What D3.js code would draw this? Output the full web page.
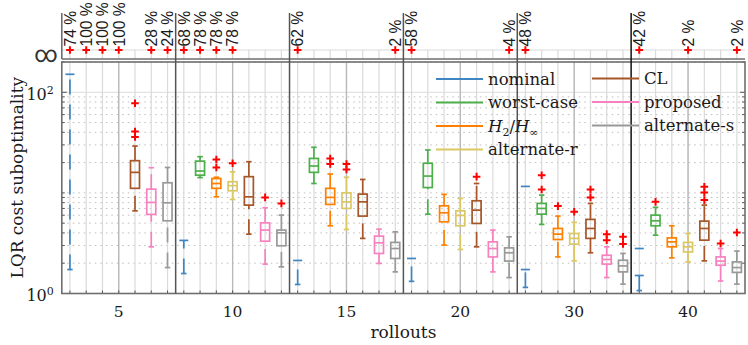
<!DOCTYPE html>
<html>
<head>
<meta charset="utf-8">
<script src="https://cdn.jsdelivr.net/npm/d3@7"></script>
<style>
body { margin: 0; background: #fff; }
</style>
</head>
<body>
<svg width="748" height="345" font-family="DejaVu Serif, serif"></svg>
<script>
var groups = ['5', '10', '15', '20', '30', '40'];
var methods = ['nominal', 'worst-case', 'H2/Hinf', 'alternate-r', 'CL', 'proposed', 'alternate-s'];
var colors = ['#3f85c2', '#4daf4a', '#ff7f00', '#dcc862', '#a65628', '#f781bf', '#999999'];

// percentage of rollouts that ended at infinity, per group, per method
var infPct = [
  [74, 100, 100, 100, null, 28, 24],
  [68, 78, 78, 78, null, null, null],
  [62, null, null, null, null, null, 2],
  [58, null, null, null, null, null, 4],
  [48, null, null, null, null, null, null],
  [42, null, null, 2, null, null, 2]
];

// box stats [lo, q1, median, q3, hi] per group (null = off chart)
var nominal = [
  [1.73, 151, null, null, null],
  [1.58, 3.37, null, null, null],
  [1.23, 2.13, null, null, null],
  [1.32, 2.23, null, null, null],
  [1.15, 1.73, 11.6, null, null],
  [1.07, 1.51, 2.8, null, null]
];
var worstCase = [
  null,
  [14.2, 15.0, 16.5, 20.7, 22.9],
  [12.4, 16.0, 18.5, 22.0, 28.4],
  [6.15, 11.3, 14.7, 19.7, 26.7],
  [4.86, 6.15, 7.01, 7.86, 9.51],
  [3.80, 4.71, 5.28, 6.01, 7.18]
];
var h2hinf = [
  null,
  [9.14, 11.1, 12.4, 13.9, 14.3],
  [4.71, 7.68, 9.02, 11.1, 15.4],
  [3.03, 5.16, 6.34, 7.44, 9.66],
  [2.31, 3.44, 3.89, 4.43, 5.88],
  [2.26, 2.91, 3.26, 3.57, 4.71]
];
var alternateR = [
  null,
  [8.61, 10.5, 11.8, 12.9, 16.2],
  [4.33, 7.01, 8.15, 10.0, 14.3],
  [2.74, 4.71, 5.97, 6.63, 8.81],
  [2.11, 3.09, 3.53, 3.95, 5.09],
  [2.06, 2.59, 2.91, 3.22, 3.95]
];
var cl = [
  [6.63, 11.1, 16.0, 20.9, 29.2],
  [3.89, 7.56, 9.14, 14.5, 20.4],
  [3.53, 5.88, 8.15, 9.73, 13.6],
  [2.91, 4.97, 6.74, 8.35, 12.4],
  [2.54, 3.53, 4.43, 5.45, 7.86],
  [2.11, 3.39, 4.43, 5.24, 7.56]
];
var proposed = [
  [2.91, 6.11, 8.04, 10.9, 17.8],
  [1.96, 3.31, 4.27, 5.04, 7.11],
  [1.99, 2.50, 3.19, 3.72, 4.36],
  [1.64, 2.31, 2.80, 3.26, 4.27],
  [1.44, 1.96, 2.18, 2.40, 2.91],
  [1.33, 1.91, 2.10, 2.31, 2.80]
];
var alternateS = [
  [1.81, 5.28, 7.97, 12.6, 17.9],
  [1.84, 2.98, 4.01, 4.27, 6.01],
  [1.64, 2.23, 2.80, 3.22, 4.10],
  [1.44, 2.10, 2.54, 2.84, 3.66],
  [1.24, 1.64, 1.88, 2.14, 2.50],
  [1.24, 1.62, 1.81, 2.06, 2.64]
];

// outliers per group
var worstCaseOut = [[], [], [], [], [15.0, 10.8], [8.15]];
var h2hinfOut = [[], [21.5, 17.9], [22.0, 19.4], [], [7.39], []];
var alternateROut = [[], [19.7], [19.4, 17.1], [], [6.49], []];
var clOut = [[77.7, 40.7, 35.9], [], [], [14.5], [10.8, 9.02], [11.5, 10.1, 8.48]];
var proposedOut = [[], [9.02], [], [], [3.89, 3.39], [3.14]];
var alternateSOut = [[], [7.86], [], [], [3.66, 3.1], [4.04]];
var nominalOut = [[], [], [], [], [], []];

var stats = [nominal, worstCase, h2hinf, alternateR, cl, proposed, alternateS];
var outs = [nominalOut, worstCaseOut, h2hinfOut, alternateROut, clOut, proposedOut, alternateSOut];

var yMajor = [1, 100];
var yMinor = [2, 3, 4, 5, 6, 7, 8, 9, 10, 20, 30, 40, 50, 60, 70, 80, 90, 200];

var svg = d3.select('svg');
var x0 = 61.8, x1 = 745, yTop = 62, yBot = 293.5;
var stripY = 50, stripBot = 59, stripTop = 13;

var xg = d3.scaleBand().domain(groups).range([x0, x1]);
var xm = d3.scaleBand().domain(methods).range([0, xg.bandwidth()]);
var y = d3.scaleLog().domain([1, 200]).range([yBot, yTop]);
var cx = function(gi, mi){ return xg(groups[gi]) + xm(methods[mi]) + xm.bandwidth() / 2; };

// flatten boxes
var boxes = [];
stats.forEach(function(arr, mi){
  arr.forEach(function(s, gi){
    if(!s) return;
    boxes.push({ gi: gi, mi: mi, lo: s[0], q1: s[1], med: s[2], q3: s[3], hi: s[4], out: outs[mi][gi] });
  });
});

// ---- gridlines ----
var grid = svg.append('g');
grid.selectAll('.hmin').data(yMinor).enter().append('line')
  .attr('x1', x0).attr('x2', x1)
  .attr('y1', function(d){ return y(d); }).attr('y2', function(d){ return y(d); })
  .attr('stroke', '#bdbdbd').attr('stroke-width', 1).attr('stroke-dasharray', '1.5,4');
grid.selectAll('.hmaj').data(yMajor).enter().append('line')
  .attr('x1', x0).attr('x2', x1)
  .attr('y1', function(d){ return y(d); }).attr('y2', function(d){ return y(d); })
  .attr('stroke', '#e2e2e2').attr('stroke-width', 1.2);

var slots = [];
groups.forEach(function(g, gi){ methods.forEach(function(m, mi){ slots.push(cx(gi, mi)); }); });
grid.selectAll('.vmin').data(slots).enter().append('line')
  .attr('x1', function(d){ return d; }).attr('x2', function(d){ return d; })
  .attr('y1', yTop).attr('y2', yBot)
  .attr('stroke', '#dadada').attr('stroke-width', 1.2);
grid.selectAll('.vstrip').data(slots).enter().append('line')
  .attr('x1', function(d){ return d; }).attr('x2', function(d){ return d; })
  .attr('y1', stripY).attr('y2', stripBot)
  .attr('stroke', '#dadada').attr('stroke-width', 1.2);
grid.selectAll('.vmaj').data(groups).enter().append('line')
  .attr('x1', function(d){ return xg(d) + xg.bandwidth() / 2; })
  .attr('x2', function(d){ return xg(d) + xg.bandwidth() / 2; })
  .attr('y1', yTop).attr('y2', yBot)
  .attr('stroke', '#b8b8b8').attr('stroke-width', 1.3);
grid.append('line').attr('x1', x0).attr('x2', x1).attr('y1', stripY).attr('y2', stripY)
  .attr('stroke', '#dadada').attr('stroke-width', 1.2);

// ---- axes ----
var xAxis = d3.axisBottom(xg).tickSize(0).tickPadding(12);
var gx = svg.append('g').attr('transform', 'translate(0,' + yBot + ')').call(xAxis);
gx.select('.domain').remove();
gx.selectAll('text').attr('font-family', 'DejaVu Serif, serif').attr('font-size', 15.5).attr('fill', '#1a1a1a');

// minor ticks on bottom
svg.selectAll('.xt').data(slots).enter().append('line')
  .attr('x1', function(d){ return d; }).attr('x2', function(d){ return d; })
  .attr('y1', yBot).attr('y2', yBot - 3).attr('stroke', '#555').attr('stroke-width', 1);

var yAxis = d3.axisLeft(y).tickValues(yMajor).tickSize(0).tickPadding(8);
var gy = svg.append('g').attr('transform', 'translate(' + x0 + ',0)').call(yAxis);
gy.select('.domain').remove();
gy.selectAll('text').each(function(d){
  var t = d3.select(this).text('');
  t.attr('font-family', 'DejaVu Serif, serif').attr('font-size', 16).attr('fill', '#1a1a1a')
    .attr('dy', '0.42em');
  t.append('tspan').text('10');
  t.append('tspan').attr('dy', '-0.5em').attr('font-size', 11).text(Math.round(Math.log10(d)));
});
// y minor ticks, both sides
[x0, x1].forEach(function(xx, k){
  var dir = k === 0 ? 1 : -1;
  svg.selectAll('.yt' + k).data(yMinor.concat(yMajor)).enter().append('line')
    .attr('x1', xx).attr('x2', function(d){ return xx + dir * (yMajor.indexOf(d) >= 0 ? 5 : 3); })
    .attr('y1', function(d){ return y(d); }).attr('y2', function(d){ return y(d); })
    .attr('stroke', '#555').attr('stroke-width', 1);
});

// frame
svg.append('rect').attr('x', x0).attr('y', yTop).attr('width', x1 - x0).attr('height', yBot - yTop)
  .attr('fill', 'none').attr('stroke', '#6e6e6e').attr('stroke-width', 1.6);
svg.append('line').attr('x1', x0).attr('x2', x1).attr('y1', stripBot).attr('y2', stripBot)
  .attr('stroke', '#6e6e6e').attr('stroke-width', 1.6);
svg.append('line').attr('x1', x0).attr('x2', x0).attr('y1', stripTop).attr('y2', stripBot)
  .attr('stroke', '#6e6e6e').attr('stroke-width', 1.6);

// group separators
var seps = groups.slice(1).map(function(g){ return xg(g); });
svg.selectAll('.sep').data(seps).enter().append('line')
  .attr('x1', function(d){ return d; }).attr('x2', function(d){ return d; })
  .attr('y1', stripTop).attr('y2', yBot)
  .attr('stroke', function(d, i){ return i === seps.length - 1 ? '#111' : '#555'; })
  .attr('stroke-width', 1.5);

// infinity label
svg.append('text').attr('x', 46).attr('y', 62).attr('text-anchor', 'middle')
  .attr('font-family', 'Roboto, sans-serif')
  .attr('font-size', 23).attr('fill', '#333').text('\u221e');

// ---- boxes ----
var bw = 9, cw = 5.5;
var gb = svg.append('g').attr('fill', 'none').attr('stroke-width', 1.7);
boxes.forEach(function(b){
  var x = cx(b.gi, b.mi), col = colors[b.mi];
  var g = gb.append('g').attr('stroke', col);
  // lower whisker, drawn upward so the dash pattern starts at the cap
  g.append('line').attr('x1', x).attr('x2', x).attr('y1', y(b.lo)).attr('y2', y(b.q1))
    .attr('stroke-dasharray', '15,10');
  g.append('line').attr('x1', x - cw / 2).attr('x2', x + cw / 2).attr('y1', y(b.lo)).attr('y2', y(b.lo));
  if(b.q3 !== null){
    g.append('rect').attr('x', x - bw / 2).attr('y', y(b.q3)).attr('width', bw)
      .attr('height', y(b.q1) - y(b.q3));
  } else {
    g.append('line').attr('x1', x - bw / 2).attr('x2', x + bw / 2).attr('y1', y(b.q1)).attr('y2', y(b.q1));
  }
  if(b.med !== null){
    g.append('line').attr('x1', x - bw / 2).attr('x2', x + bw / 2).attr('y1', y(b.med)).attr('y2', y(b.med));
  }
  if(b.hi !== null && b.q3 !== null){
    g.append('line').attr('x1', x).attr('x2', x).attr('y1', y(b.q3)).attr('y2', y(b.hi))
      .attr('stroke-dasharray', '15,10');
    g.append('line').attr('x1', x - cw / 2).attr('x2', x + cw / 2).attr('y1', y(b.hi)).attr('y2', y(b.hi));
  }
});

// outliers + infinity markers
var plus = function(x, yy){
  return 'M' + (x - 3.8) + ',' + yy + 'H' + (x + 3.8) + 'M' + x + ',' + (yy - 3.8) + 'V' + (yy + 3.8);
};
var outPts = [];
boxes.forEach(function(b){ b.out.forEach(function(v){ outPts.push({ x: cx(b.gi, b.mi), v: v }); }); });
svg.selectAll('.out').data(outPts).enter().append('path')
  .attr('d', function(d){ return plus(d.x, y(d.v)); })
  .attr('stroke', '#ff0000').attr('stroke-width', 2).attr('fill', 'none');

var infPts = [];
infPct.forEach(function(row, gi){
  row.forEach(function(p, mi){ if(p !== null) infPts.push({ x: cx(gi, mi), p: p }); });
});
svg.selectAll('.inf').data(infPts).enter().append('path')
  .attr('d', function(d){ return plus(d.x, stripY); })
  .attr('stroke', '#ff0000').attr('stroke-width', 2).attr('fill', 'none');
svg.selectAll('.pct').data(infPts).enter().append('text')
  .attr('transform', function(d){ return 'translate(' + (d.x + 5.8) + ',' + 46.5 + ') rotate(-90)'; })
  .attr('font-family', 'Liberation Sans, Arial, sans-serif').attr('font-size', 15.6)
  .attr('fill', '#1a1a1a')
  .text(function(d){ return d.p + ' %'; });

// ---- labels ----
svg.append('text').attr('x', (x0 + x1) / 2).attr('y', 338).attr('text-anchor', 'middle')
  .attr('font-size', 17).attr('fill', '#1a1a1a').text('rollouts');
svg.append('text').attr('transform', 'translate(23,' + ((yTop + yBot) / 2) + ') rotate(-90)')
  .attr('text-anchor', 'middle').attr('font-size', 17).attr('fill', '#1a1a1a')
  .text('LQR cost suboptimality');

// ---- legend ----
var legPos = [
  [436, 79], [436, 102.5], [436, 126], [436, 149.5],
  [592, 78.5], [592, 102], [592, 125.5]
];
var leg = svg.append('g');
methods.forEach(function(m, i){
  var p = legPos[i];
  leg.append('line').attr('x1', p[0]).attr('x2', p[0] + 47).attr('y1', p[1]).attr('y2', p[1])
    .attr('stroke', colors[i]).attr('stroke-width', 2);
  var t = leg.append('text').attr('x', p[0] + 52).attr('y', p[1] + 5.5)
    .attr('font-size', 16.5).attr('fill', '#1a1a1a');
  if(m === 'H2/Hinf'){
    t.append('tspan').attr('font-style', 'italic').text('H');
    t.append('tspan').attr('font-size', 11).attr('dy', 4).text('2');
    t.append('tspan').attr('dy', -4).text('/');
    t.append('tspan').attr('font-style', 'italic').text('H');
    t.append('tspan').attr('font-size', 11).attr('dy', 4).text('\u221e');
  } else {
    t.text(m);
  }
});
</script>
</body>
</html>
